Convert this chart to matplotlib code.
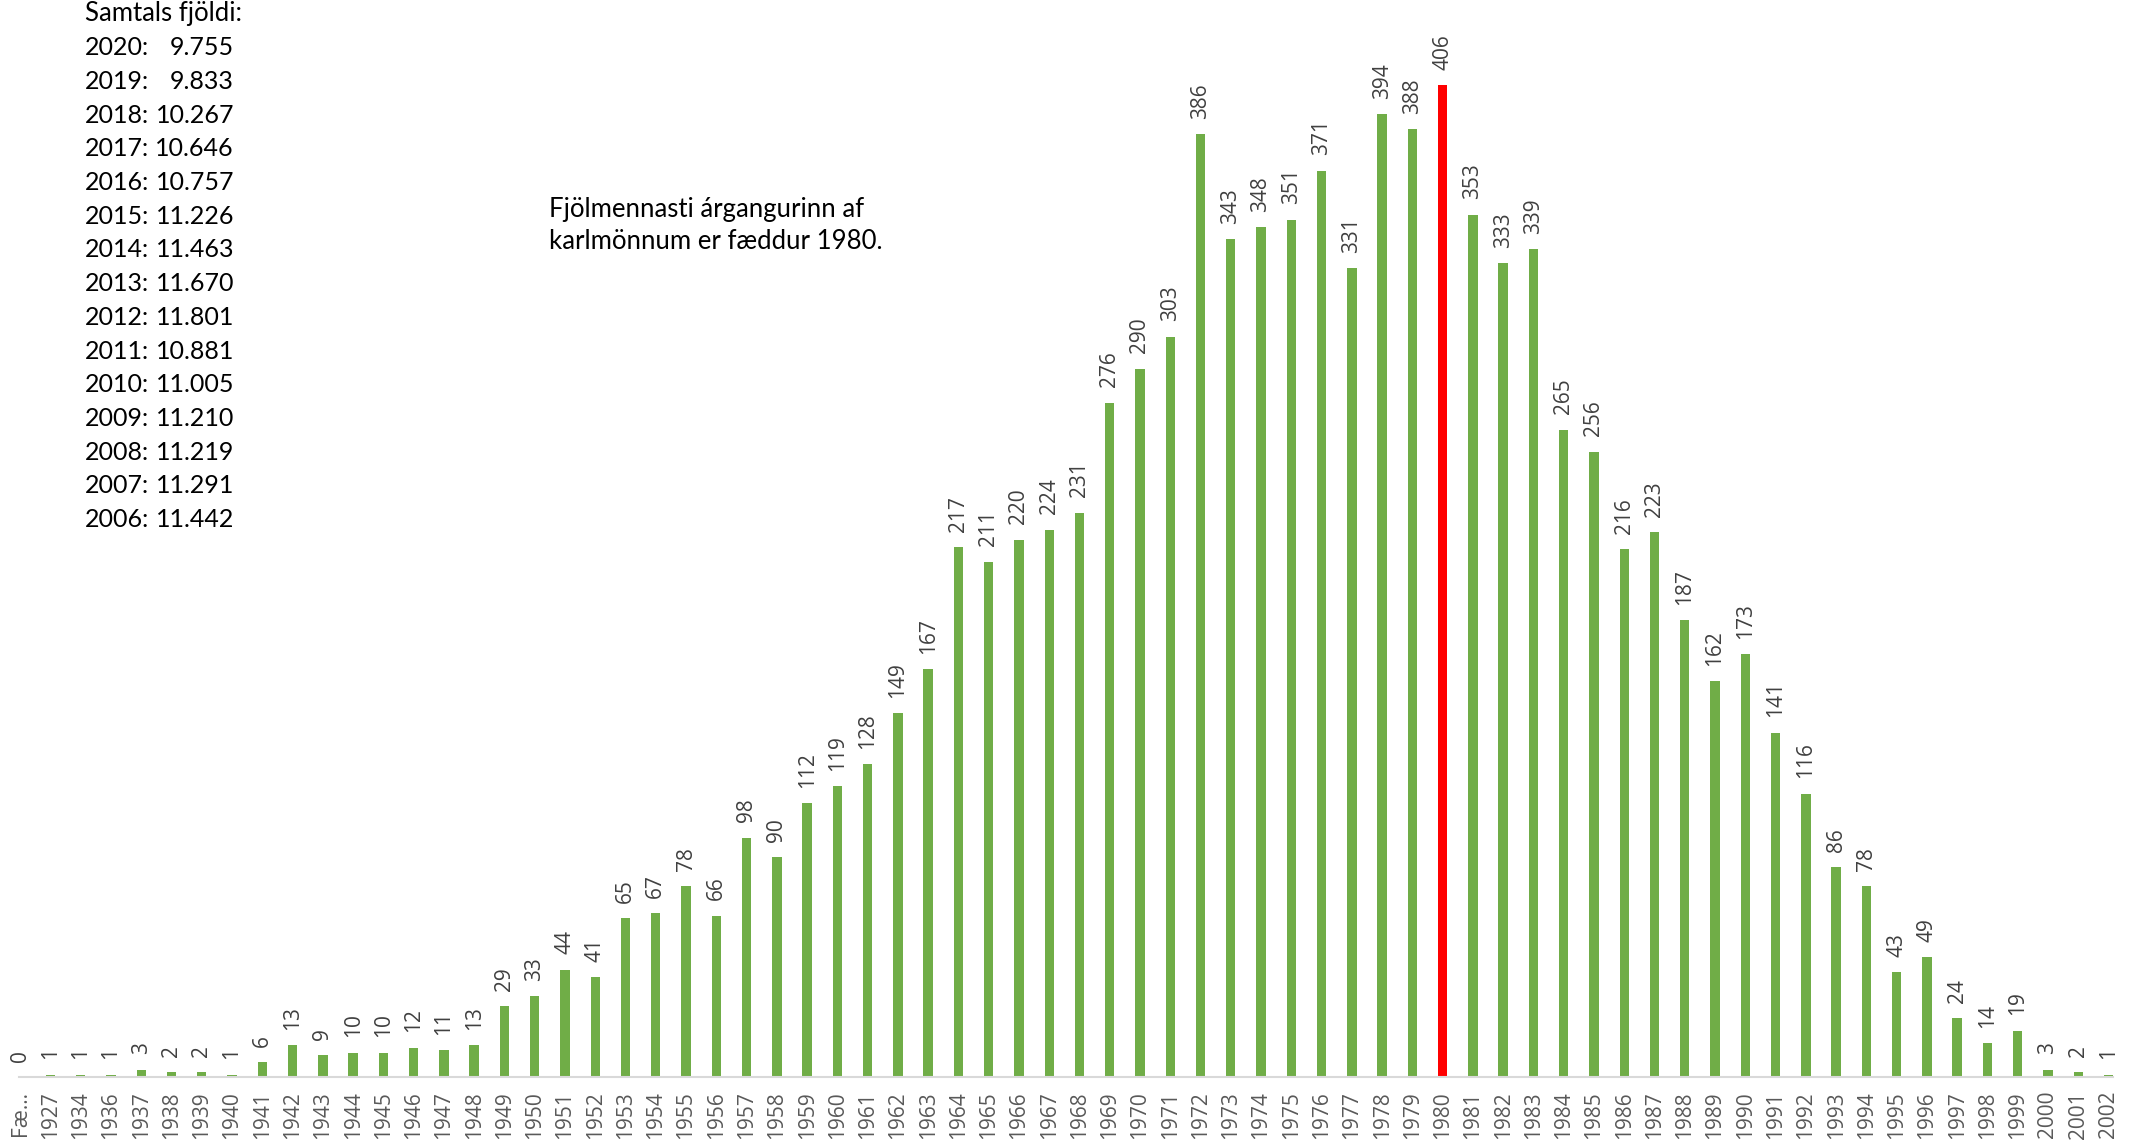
import matplotlib
matplotlib.use("Agg")
import matplotlib.pyplot as plt

# category labels and counts (men by birth year)
categories = ["Fæ...", "1927", "1934"] + [str(y) for y in range(1936, 2003)]
counts = [0, 1, 1,
          1, 3, 2, 2, 1, 6, 13, 9, 10, 10, 12, 11, 13, 29, 33, 44, 41,
          65, 67, 78, 66, 98, 90, 112, 119, 128, 149, 167, 217, 211, 220, 224,
          231, 276, 290, 303, 386, 343, 348, 351, 371, 331, 394, 388, 406,
          353, 333, 339, 265, 256, 216, 223, 187, 162, 173, 141, 116, 86, 78,
          43, 49, 24, 14, 19, 3, 2, 1]
highlight = "1980"

total_years = [2020, 2019, 2018, 2017, 2016, 2015, 2014, 2013, 2012, 2011,
               2010, 2009, 2008, 2007, 2006]
total_counts = [9755, 9833, 10267, 10646, 10757, 11226, 11463, 11670, 11801,
                10881, 11005, 11210, 11219, 11291, 11442]

note = "Fjölmennasti árgangurinn af\nkarlmönnum er fæddur 1980."

W, H = 2140, 1144
GREEN = "#70AD47"
RED = "#FF0000"
LBL = "Open Sans"

fig = plt.figure(figsize=(W / 100, H / 100), dpi=100)
base_px = 1077
ax = fig.add_axes([19 / W, 1 - base_px / H, (2113 - 19) / W, base_px / H])

x = list(range(len(categories)))
colors = [RED if c == highlight else GREEN for c in categories]
ax.bar(x, counts, width=0.31, color=colors, zorder=2)

for xi, v in zip(x, counts):
    ax.annotate(str(v), (xi, v), xytext=(0, 11), textcoords="offset points",
                rotation=90, ha="center", va="bottom", fontsize=15,
                family=LBL, color="#404040")

ax.set_xlim(-0.04, 69.15)
ax.set_ylim(0, base_px / 2.443)
ax.set_xticks(x)
ax.set_xticklabels(categories, rotation=90, fontsize=15, family=LBL,
                   color="#595959")
ax.tick_params(axis="x", length=0, pad=10)
ax.set_yticks([])
for s in ["top", "left", "right"]:
    ax.spines[s].set_visible(False)
ax.spines["bottom"].set_color("#D9D9D9")
ax.spines["bottom"].set_linewidth(1.5)
ax.patch.set_alpha(0)

# totals box, top left
fam = "Lato"
fs = 18
y0, dy = 14, 33.7
fig.text(85 / W, 1 - y0 / H, "Samtals fjöldi:", fontsize=fs + 0.5,
         family=fam, va="center", ha="left")
for i, (yr, n) in enumerate(zip(total_years, total_counts)):
    yy = 1 - (y0 + (i + 1) * dy) / H
    fig.text(85 / W, yy, f"{yr}:", fontsize=fs, family=fam, va="center",
             ha="left")
    fig.text(234 / W, yy, f"{n:,}".replace(",", "."), fontsize=fs,
             family=fam, va="center", ha="right")

fig.text(549 / W, 1 - 226 / H, note, fontsize=18.5, family=fam, va="center",
         ha="left", linespacing=1.35)

fig.savefig("out.png", dpi=100)
